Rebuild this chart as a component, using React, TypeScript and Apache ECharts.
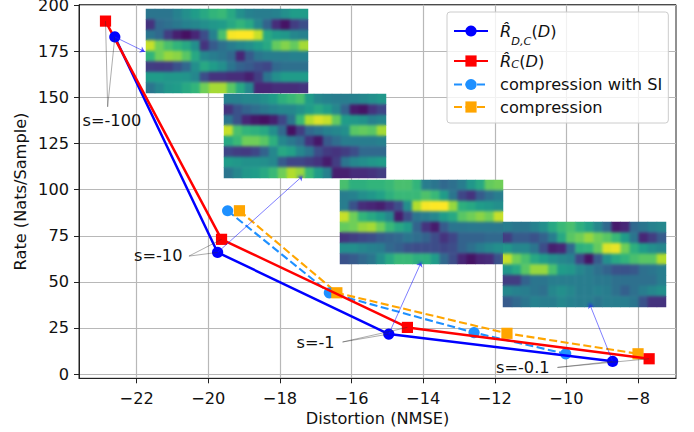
import React, { useEffect, useRef } from "react";
import * as echarts from "echarts";

const xTicks = [-22, -20, -18, -16, -14, -12, -10, -8];
const yTicks = [0, 25, 50, 75, 100, 125, 150, 175, 200];

const rdcPoints = [[-22.61, 182.9], [-19.74, 66.0], [-14.96, 21.7], [-8.71, 6.9]];
const rcPoints = [[-22.87, 191.5], [-19.63, 73.1], [-14.44, 25.3], [-7.69, 8.3]];
const compSiPoints = [[-19.46, 88.6], [-16.62, 44.1], [-12.58, 22.5], [-10.02, 11.0]];
const compPoints = [[-19.13, 88.6], [-16.41, 44.1], [-11.66, 22.1], [-8.0, 11.0]];

const arrowTips = [[-21.77, 174.9], [-17.36, 107.6], [-14.05, 60.9], [-9.36, 38.4]];
const labelAnchors = [[-22.81, 145.0], [-20.54, 64.0], [-16.25, 17.4], [-10.25, 3.6]];

const heat1 = [
  [.35,.35,.35,.4,.45,.5,.55,.6,.62,.55,.45,.4,.38,.38,.4,.45,.5,.5],
  [.12,.3,.33,.36,.4,.42,.45,.48,.5,.55,.6,.55,.42,.28,.1,.03,.15,.2],
  [.35,.3,.15,.06,.02,.08,.2,.4,.65,.92,.95,.93,.85,.55,.5,.48,.42,.4],
  [.85,.72,.65,.6,.55,.45,.12,.25,.33,.38,.42,.45,.5,.55,.7,.75,.7,.8],
  [.6,.72,.78,.76,.68,.55,.42,.38,.35,.3,.08,.25,.35,.38,.38,.38,.4,.4],
  [.15,.14,.15,.22,.3,.45,.55,.5,.45,.35,.28,.25,.2,.18,.3,.33,.33,.33],
  [.5,.5,.48,.48,.47,.42,.2,.12,.12,.1,.1,.06,.15,.35,.45,.5,.5,.5],
  [.35,.42,.48,.5,.55,.6,.72,.8,.8,.68,.55,.42,.08,.08,.1,.1,.1,.12],
];
const heat2 = [
  [.4,.4,.42,.42,.45,.5,.58,.62,.65,.5,.42,.4,.38,.38,.4,.42,.45,.48],
  [.12,.22,.28,.32,.36,.4,.42,.42,.46,.5,.55,.5,.42,.28,.05,.03,.12,.18],
  [.35,.22,.08,.04,.02,.06,.18,.35,.62,.82,.88,.85,.7,.5,.48,.46,.4,.42],
  [.85,.65,.6,.58,.55,.45,.3,.02,.15,.3,.35,.4,.42,.45,.68,.7,.68,.8],
  [.55,.62,.72,.72,.68,.58,.42,.36,.3,.12,.04,.25,.32,.38,.38,.38,.38,.4],
  [.18,.15,.14,.18,.28,.42,.55,.52,.42,.35,.2,.14,.12,.15,.2,.3,.3,.3],
  [.5,.48,.46,.46,.45,.42,.25,.18,.18,.15,.12,.05,.15,.35,.42,.45,.48,.5],
  [.35,.42,.48,.5,.55,.62,.72,.82,.78,.62,.5,.4,.06,.06,.1,.1,.12,.15],
];
const heat3 = [
  [.65,.58,.58,.6,.6,.62,.65,.65,.6,.38,.35,.3,.33,.38,.48,.55,.7,.72],
  [.38,.4,.45,.48,.52,.58,.62,.62,.62,.66,.62,.5,.35,.18,.12,.25,.33,.38],
  [.38,.22,.1,.08,.06,.12,.2,.45,.82,.92,.97,.95,.78,.58,.55,.5,.48,.45],
  [.85,.72,.6,.55,.5,.42,.05,.2,.35,.38,.42,.5,.55,.68,.72,.76,.72,.85],
  [.7,.72,.78,.8,.72,.62,.55,.5,.28,.12,.05,.25,.35,.35,.36,.36,.36,.36],
  [.12,.15,.18,.2,.25,.28,.3,.35,.32,.28,.2,.12,.18,.28,.28,.28,.3,.3],
  [.45,.45,.42,.4,.38,.3,.27,.22,.2,.2,.2,.18,.2,.28,.33,.38,.42,.45],
  [.22,.25,.3,.35,.45,.55,.62,.62,.58,.58,.5,.3,.2,.08,.03,.08,.1,.22],
];
const heat4 = [
  [.38,.35,.35,.4,.45,.55,.62,.65,.58,.52,.42,.3,.05,.08,.3,.35,.4,.42],
  [.15,.25,.25,.22,.28,.38,.55,.68,.72,.78,.72,.68,.62,.5,.35,.08,.15,.25],
  [.48,.42,.42,.35,.2,.06,.08,.3,.58,.6,.7,.88,.9,.72,.58,.5,.45,.42],
  [.85,.72,.65,.55,.5,.45,.42,.4,.18,.03,.25,.45,.55,.6,.65,.68,.68,.82],
  [.48,.55,.68,.78,.78,.65,.5,.48,.42,.38,.33,.28,.22,.22,.24,.33,.35,.38],
  [.15,.15,.28,.35,.35,.38,.38,.38,.38,.38,.36,.36,.33,.33,.33,.33,.33,.38],
  [.42,.4,.38,.35,.33,.42,.45,.42,.38,.38,.4,.38,.33,.27,.33,.38,.42,.45],
  [.25,.3,.35,.4,.38,.38,.42,.4,.38,.38,.35,.38,.38,.38,.35,.22,.12,.12],
];
const heatmaps = [heat1, heat2, heat3, heat4];
const heatBoxes = [
  { left: 146, top: 9, width: 162, height: 84 },
  { left: 224, top: 94, width: 162, height: 84 },
  { left: 340, top: 180, width: 163, height: 84 },
  { left: 503, top: 222, width: 163, height: 85 },
];
const viridis = ["#440154", "#482878", "#3e4a89", "#31688e", "#26828e", "#1f9e89", "#35b779", "#6ece58", "#b5de2b", "#fde725"];

const textLabels = [
  { text: "s=-100", x: 82.5, y: 120 },
  { text: "s=-10", x: 134, y: 255.5 },
  { text: "s=-1", x: 296.5, y: 342.5 },
  { text: "s=-0.1", x: 496, y: 367.5 },
];

const FONT = "DejaVu Sans";
const FS = 16.2;
const legendRDC = "R̂_D,C(D)";
const legendRC = "R̂_C(D)";
const legendSI = "compression with SI";
const legendC = "compression";

const minusLabel = (v: number) => String(v).replace("-", "\u2212");

export default function App() {
  const ref = useRef<HTMLDivElement>(null);
  useEffect(() => {
    document.body.style.margin = "0";
    const chart = echarts.init(ref.current!, null, { renderer: "svg" });
    const grids: any[] = [{ left: 79, top: 4.7, right: 18, bottom: 53.7, show: true, outerBoundsMode: "none", borderColor: "#222", borderWidth: 1, backgroundColor: "#fff" }];
    const xAxes: any[] = [{
      type: "value", min: -23.61, max: -6.94,
      name: "Distortion (NMSE)", nameLocation: "middle", nameGap: 32, nameMoveOverlap: false,
      nameTextStyle: { fontFamily: FONT, fontSize: FS, color: "#111" },
      axisLine: { show: true, onZero: false, lineStyle: { color: "#222", width: 1 } },
      axisTick: { show: true, length: 5, customValues: xTicks, lineStyle: { color: "#222", width: 1 } },
      axisLabel: { customValues: xTicks, formatter: minusLabel, fontFamily: FONT, fontSize: FS, color: "#111", margin: 12 },
      splitLine: { show: true, lineStyle: { color: "#b8b8b8", width: 1.2 } },
    }];
    const yAxes: any[] = [{
      type: "value", min: -2.3, max: 200.4,
      name: "Rate (Nats/Sample)", nameLocation: "middle", nameGap: 51, nameMoveOverlap: false,
      nameTextStyle: { fontFamily: FONT, fontSize: FS, color: "#111" },
      axisLine: { show: true, onZero: false, lineStyle: { color: "#222", width: 1 } },
      axisTick: { show: true, length: 5, customValues: yTicks, lineStyle: { color: "#222", width: 1 } },
      axisLabel: { customValues: yTicks, fontFamily: FONT, fontSize: FS, lineHeight: 12, padding: [2, 0, 0, 0], color: "#111", margin: 10 },
      splitLine: { show: true, lineStyle: { color: "#b8b8b8", width: 1.2 } },
    }];
    const heatSeries: any[] = heatmaps.map((m, i) => {
      grids.push({ ...heatBoxes[i], outerBoundsMode: "none" });
      xAxes.push({ type: "category", gridIndex: i + 1, show: false, data: m[0].map((_, c) => c) });
      yAxes.push({ type: "category", gridIndex: i + 1, show: false, inverse: true, data: m.map((_, r) => r) });
      const data: number[][] = [];
      m.forEach((row, r) => row.forEach((v, c) => data.push([c, r, v])));
      return { type: "heatmap", name: "inset" + (i + 1), xAxisIndex: i + 1, yAxisIndex: i + 1, data, z: 6 + i, silent: true, progressive: 0 };
    });
    const lineSeries = (name: string, pts: number[][], color: string, symbol: string, width: number, dashed: boolean) => ({
      type: "line", name, data: pts, symbol, symbolSize: 11.2, showSymbol: true,
      lineStyle: { color, width, type: dashed ? [8, 3.5] : "solid", cap: "butt" },
      itemStyle: { color }, z: dashed ? 3 : 4, clip: false,
    });
    const arrowLines = rdcPoints.map((p, i) => [{ coord: p }, { coord: arrowTips[i] }]);
    const blackLines: any[] = [];
    labelAnchors.forEach((a, i) => {
      blackLines.push([{ coord: a }, { coord: rdcPoints[i] }]);
      blackLines.push([{ coord: a }, { coord: rcPoints[i] }]);
    });
    chart.setOption({
      animation: false,
      grid: grids,
      xAxis: xAxes,
      yAxis: yAxes,
      visualMap: { type: "continuous", show: false, min: -0.02, max: 0.93, dimension: 2, seriesIndex: [0, 1, 2, 3], inRange: { color: viridis } },
      legend: {
        left: 447, top: 12, orient: "vertical", itemWidth: 34, itemHeight: 14, itemGap: 6.5,
        padding: [11, 6, 8, 6], backgroundColor: "rgba(255,255,255,0.8)", borderColor: "#ccc", borderWidth: 1, borderRadius: 3,
        z: 20,
        data: [legendRDC, legendRC, legendSI, legendC],
        formatter: (name: string) => {
          if (name === legendRDC) return "{r|R̂}{s|D,C}{p|(}{r|D}{p|)}";
          if (name === legendRC) return "{r2|R̂}{s2|C}{p2|(}{r2|D}{p2|)}";
          return "{t|" + name + "}";
        },
        textStyle: {
          fontFamily: FONT, fontSize: FS, color: "#111", padding: [0, 0, 0, 7],
          rich: {
            r: { fontFamily: FONT, fontSize: FS, fontStyle: "italic", color: "#111", lineHeight: 31 },
            p: { fontFamily: FONT, fontSize: FS, color: "#111", lineHeight: 31 },
            s: { fontFamily: FONT, fontSize: 11.3, fontStyle: "italic", color: "#111", lineHeight: 31, verticalAlign: "bottom" },
            r2: { fontFamily: FONT, fontSize: FS, fontStyle: "italic", color: "#111", lineHeight: 18 },
            p2: { fontFamily: FONT, fontSize: FS, color: "#111", lineHeight: 18 },
            s2: { fontFamily: FONT, fontSize: 11.3, fontStyle: "italic", color: "#111", lineHeight: 18, verticalAlign: "bottom" },
            t: { fontFamily: FONT, fontSize: FS, color: "#111", lineHeight: 22 },
          },
        },
      },
      series: [
        ...heatSeries,
        lineSeries(legendRDC, rdcPoints, "#0000ff", "circle", 2.5, false),
        lineSeries(legendRC, rcPoints, "#ff0000", "rect", 2.5, false),
        lineSeries(legendSI, compSiPoints, "#1e90ff", "circle", 2.1, true),
        lineSeries(legendC, compPoints, "#ffa500", "rect", 2.1, true),
        {
          type: "line", name: "arrows", data: [], z: 12, silent: true,
          markLine: { silent: true, animation: false, z: 12, symbol: ["none", "arrow"], symbolSize: 5, label: { show: false }, lineStyle: { color: "#1a1aff", width: 0.8, opacity: 0.7, type: "solid" }, data: arrowLines },
        },
        {
          type: "line", name: "guides", data: [], z: 12, silent: true,
          markLine: { silent: true, animation: false, z: 12, symbol: ["none", "none"], label: { show: false }, lineStyle: { color: "#333", width: 0.5, opacity: 0.8, type: "solid" }, data: blackLines },
        },
      ],
      graphic: textLabels.map((l) => ({
        type: "text", x: l.x, y: l.y, z: 13, silent: true,
        style: { text: l.text, fontFamily: FONT, fontSize: FS, fill: "#111", verticalAlign: "middle", align: "left" },
      })),
    });
    return () => chart.dispose();
  }, []);
  return (
    <div style={{ position: "relative", width: 694, height: 432 }}>
      <div ref={ref} style={{ width: 694, height: 432 }} />
      {heatBoxes.map((b, i) => (
        <div
          key={i}
          style={{
            position: "absolute", left: b.left, top: b.top, width: b.width, height: b.height,
            pointerEvents: "none", backdropFilter: "blur(1.6px)",
          }}
        />
      ))}
    </div>
  );
}
